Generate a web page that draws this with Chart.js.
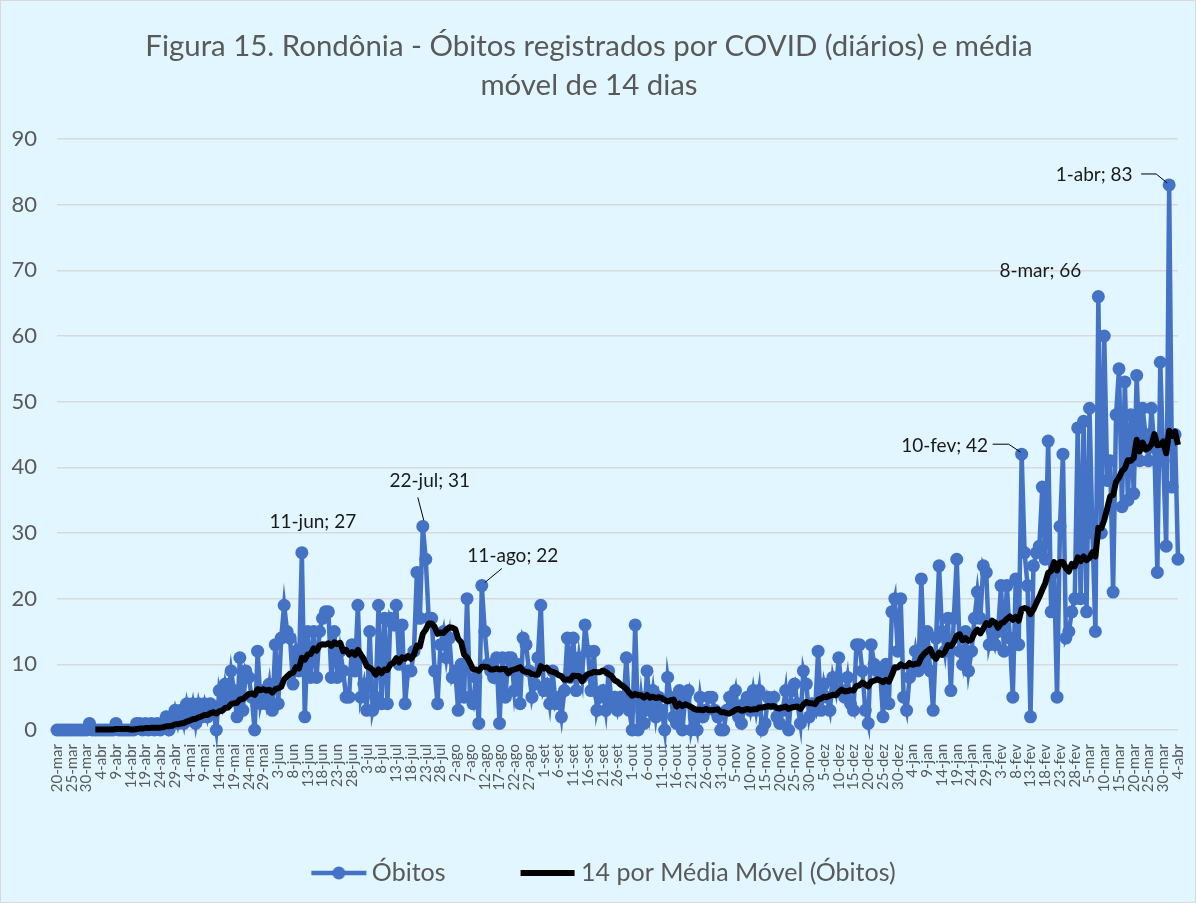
<!DOCTYPE html>
<html><head><meta charset="utf-8">
<script src="https://cdn.jsdelivr.net/npm/chart.js@4.4.1/dist/chart.umd.min.js"></script>
<style>
html,body{margin:0;padding:0;background:#E1F6FE;}
canvas{display:block;}
</style></head><body>
<canvas id="c" width="1196" height="903"></canvas>
<script>
// ---- daily deaths (Óbitos), one array per month ----
const mar20 = [0,0,0,0,0,0,0,0,0,0,0,1];                                   // 20-31 mar
const abr20 = [0,0,0,0,0,0,0,0,1,0,0,0,0,0,0,1,1,0,1,0,1,0,1,0,1,2,0,1,3,1];
const mai20 = [3,1,4,2,4,1,4,2,4,2,4,3,0,6,4,7,5,9,6,2,11,3,9,8,5,0,12,4,6,4,7];
const jun20 = [3,13,4,14,19,15,14,7,12,9,27,2,15,8,15,8,15,17,18,18,8,15,8,12,9,5,5,13,9,19];
const jul20 = [5,7,3,15,3,5,19,4,17,4,17,16,19,10,16,4,9,9,12,24,17,31,26,17,17,9,4,13,15,11,14];
const ago20 = [8,9,3,10,5,20,5,4,8,1,22,15,10,9,8,11,1,11,5,11,11,6,10,4,14,13,9,5,7,11,19];
const set20 = [6,7,4,9,4,5,2,6,14,8,14,6,11,8,16,12,6,12,3,5,6,3,9,4,5,3,5,4,11,3];
const out20 = [0,16,0,5,1,9,3,6,2,5,3,0,8,5,2,1,6,0,5,6,0,2,0,5,2,3,5,5,3,2,0];
const nov20 = [0,3,5,4,6,2,1,4,5,3,6,3,6,0,1,5,4,5,2,1,3,6,0,6,7,4,1,9,7,2];
const dez20 = [4,3,12,3,7,5,3,8,6,11,6,5,8,4,3,13,13,9,3,1,13,10,9,9,2,10,4,18,20,12,20];
const jan21 = [5,3,8,9,12,9,23,10,15,9,3,14,25,15,12,17,6,17,26,12,10,15,9,12,17,21,17,25,24,13,15];
const fev21 = [13,15,22,12,22,14,5,23,13,42,27,22,2,25,27,28,37,26,44,18,24,5,31,42,14,15,18,20];
const mar21 = [46,20,47,18,49,30,15,66,30,60,38,41,21,48,55,34,53,35,48,36,54,41,49,45,41,49,43,24,56,41,28];
const abr21 = [83,37,45,26];

// month blocks: month abbreviation, first day shown, values
const blocks = [
  ['mar',20,mar20],['abr',1,abr20],['mai',1,mai20],['jun',1,jun20],['jul',1,jul20],
  ['ago',1,ago20],['set',1,set20],['out',1,out20],['nov',1,nov20],['dez',1,dez20],
  ['jan',1,jan21],['fev',1,fev21],['mar',1,mar21],['abr',1,abr21]
];

// tick labels shown on the category axis (every 5th day)
const tickLabels = ['20-mar','25-mar','30-mar','4-abr','9-abr','14-abr','19-abr','24-abr','29-abr',
 '4-mai','9-mai','14-mai','19-mai','24-mai','29-mai','3-jun','8-jun','13-jun','18-jun','23-jun','28-jun',
 '3-jul','8-jul','13-jul','18-jul','23-jul','28-jul','2-ago','7-ago','12-ago','17-ago','22-ago','27-ago',
 '1-set','6-set','11-set','16-set','21-set','26-set','1-out','6-out','11-out','16-out','21-out','26-out','31-out',
 '5-nov','10-nov','15-nov','20-nov','25-nov','30-nov','5-dez','10-dez','15-dez','20-dez','25-dez','30-dez',
 '4-jan','9-jan','14-jan','19-jan','24-jan','29-jan','3-fev','8-fev','13-fev','18-fev','23-fev','28-fev',
 '5-mar','10-mar','15-mar','20-mar','25-mar','30-mar','4-abr'];

// annotated points (category label; the last occurrence is used)
const labelledDays = ['11-jun','22-jul','11-ago','10-fev','8-mar','1-abr'];

// ---- build categories & series ----
const categories = [];
const obitos = [];
blocks.forEach(([m, d0, vals]) => vals.forEach((v, k) => { categories.push((d0 + k) + '-' + m); obitos.push(v); }));
// 14-day moving average (trendline of the daily series)
const media14 = obitos.map((v, i) => {
  if (i < 13) return null;
  let s = 0; for (let j = i - 13; j <= i; j++) s += obitos[j];
  return s / 14;
});

// ---- styles ----
const BG = '#E1F6FE';
const GREY_TXT = '#595959';
const BLUE = '#4472C4';
const FONT = 'Lato';

// annotation placement (pixel offsets from the point)
const annotStyle = {
  '11-jun': {dx: 11, dy: -31},
  '22-jul': {dx: 7, dy: -46, leader: [[-5,-29],[1,-6]]},
  '11-ago': {dx: 31, dy: -30, leader: [[20,-17],[3,-3]]},
  '10-fev': {dx: -77, dy: -8, leader: [[-29,-10],[-13,-10],[-1,-2]]},
  '8-mar':  {dx: -58, dy: -26},
  '1-abr':  {dx: -75, dy: -10, leader: [[-28,-11],[-13,-11],[-2,-2]]}
};

function legendImg(kind) {
  const c = document.createElement('canvas');
  c.width = 140; c.height = 18;
  const g = c.getContext('2d');
  g.lineCap = 'butt';
  if (kind === 'blue') {
    g.strokeStyle = BLUE; g.lineWidth = 4.5;
    g.beginPath(); g.moveTo(82, 9); g.lineTo(137, 9); g.stroke();
    g.fillStyle = BLUE; g.beginPath(); g.arc(109.5, 9, 6.5, 0, Math.PI * 2); g.fill();
  } else {
    g.strokeStyle = '#000'; g.lineWidth = 6;
    g.beginPath(); g.moveTo(82, 9); g.lineTo(136, 9); g.stroke();
  }
  return c;
}
const imgBlue = legendImg('blue');
const imgBlack = legendImg('black');

const bgPlugin = {
  id: 'bg',
  beforeDraw(chart) {
    const ctx = chart.ctx;
    ctx.save();
    ctx.fillStyle = BG; ctx.fillRect(0, 0, chart.width, chart.height);
    ctx.strokeStyle = '#D9D9D9'; ctx.lineWidth = 1;
    ctx.strokeRect(0.5, 0.5, chart.width - 1, chart.height - 1);
    ctx.restore();
  }
};

const legendMove = {
  id: 'legendMove',
  afterLayout(chart) {
    const lg = chart.legend;
    const dy = 857.5 - lg.top, dx = -21.5;
    lg.top += dy; lg.bottom += dy; lg.left += dx; lg.right += dx;
  }
};

const annotPlugin = {
  id: 'annot',
  afterDatasetsDraw(chart) {
    const ctx = chart.ctx, xs = chart.scales.x, ys = chart.scales.y;
    ctx.save();
    ctx.font = '19px ' + FONT;
    ctx.fillStyle = '#1a1a1a';
    ctx.textAlign = 'center'; ctx.textBaseline = 'middle';
    ctx.strokeStyle = '#000'; ctx.lineWidth = 1;
    labelledDays.forEach(lbl => {
      const i = categories.lastIndexOf(lbl);
      const st = annotStyle[lbl];
      const px = xs.getPixelForValue(i), py = ys.getPixelForValue(obitos[i]);
      ctx.fillText(lbl + '; ' + obitos[i], px + st.dx, py + st.dy);
      if (st.leader) {
        ctx.beginPath();
        st.leader.forEach(([lx, ly], k) => k ? ctx.lineTo(px + lx, py + ly) : ctx.moveTo(px + lx, py + ly));
        ctx.stroke();
      }
    });
    ctx.restore();
  }
};

new Chart(document.getElementById('c'), {
  type: 'line',
  data: {
    labels: categories,
    datasets: [
      { label: 'Óbitos', data: obitos, borderColor: BLUE, backgroundColor: BLUE,
        borderWidth: 4.5, pointRadius: 6.5, pointHoverRadius: 6.5, pointBackgroundColor: BLUE,
        pointBorderWidth: 0, tension: 0, clip: false, order: 2 },
      { label: '14 por Média Móvel (Óbitos)', data: media14, borderColor: '#000', backgroundColor: '#000',
        borderWidth: 6, pointRadius: 0, tension: 0, clip: false, order: 1, borderJoinStyle: 'round' }
    ]
  },
  options: {
    responsive: false, animation: false, devicePixelRatio: 1,
    layout: { padding: { left: 0, right: 18, top: 0, bottom: 0 } },
    plugins: {
      tooltip: { enabled: false },
      title: {
        display: true,
        text: ['Figura 15. Rondônia - Óbitos registrados por COVID (diários) e média', 'móvel de 14 dias'],
        color: GREY_TXT,
        font: { family: FONT, size: 29.4, weight: 'normal', lineHeight: 39 / 29.4 },
        padding: { top: 27, bottom: 34 }
      },
      legend: {
        position: 'bottom',
        labels: {
          usePointStyle: true, pointStyleWidth: 120, boxHeight: 16, padding: 3,
          color: GREY_TXT, font: { family: FONT, size: 25 },
          generateLabels: () => [
            { text: 'Óbitos', pointStyle: imgBlue, fillStyle: BLUE, strokeStyle: BLUE, lineWidth: 0, fontColor: GREY_TXT, datasetIndex: 0 },
            { text: '14 por Média Móvel (Óbitos)', pointStyle: imgBlack, fillStyle: '#000', strokeStyle: '#000', lineWidth: 0, fontColor: GREY_TXT, datasetIndex: 1 }
          ]
        }
      }
    },
    scales: {
      x: {
        offset: false,
        grid: { display: false },
        border: { display: false },
        afterFit(s) { s.height = 135; s.paddingLeft = 0; s.paddingRight = 0; },
        ticks: {
          autoSkip: false, minRotation: 90, maxRotation: 90, padding: 6,
          color: GREY_TXT, font: { family: FONT, size: 15 },
          callback(v, i) { return i % 5 === 0 ? tickLabels[i / 5] : null; }
        }
      },
      y: {
        min: 0, max: 90,
        afterFit(s) { s.width = 57; },
        grid: { color: '#D9D9D9', lineWidth: 1.5, drawTicks: false },
        border: { display: false },
        ticks: { stepSize: 10, padding: 20, color: GREY_TXT, font: { family: FONT, size: 22 } }
      }
    }
  },
  plugins: [bgPlugin, legendMove, annotPlugin]
});
</script>
</body></html>
